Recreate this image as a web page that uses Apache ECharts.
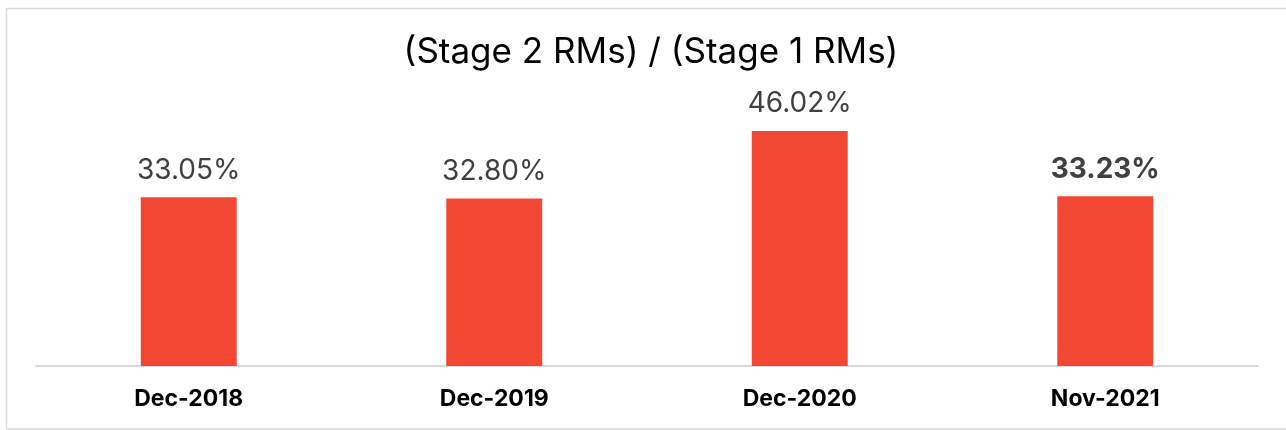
<!DOCTYPE html>
<html>
<head>
<meta charset="utf-8">
<script src="https://cdn.jsdelivr.net/npm/echarts@6/dist/echarts.min.js"></script>
<style>
html,body{margin:0;padding:0;background:#fff;}
#chart{width:1286px;height:430px;}
</style>
</head>
<body>
<div id="chart"></div>
<script>
const titleText = '(Stage 2 RMs) / (Stage 1 RMs)';
const categories = ['Dec-2018', 'Dec-2019', 'Dec-2020', 'Nov-2021'];
const values = [33.05, 32.80, 46.02, 33.23];
const boldLabelIndex = 3;

const chart = echarts.init(document.getElementById('chart'), null, {renderer: 'canvas'});
const FONT = 'Inter, Roboto, "Noto Sans", sans-serif';

chart.setOption({
  animation: false,
  backgroundColor: '#ffffff',
  title: {
    text: titleText,
    left: 651,
    textAlign: 'center',
    top: 35,
    padding: 0,
    textStyle: {fontFamily: FONT, fontSize: 35, fontWeight: 'normal', color: '#000000'}
  },
  graphic: [{
    type: 'rect',
    shape: {x: 6.5, y: 8.5, width: 1300, height: 420.5},
    style: {fill: 'none', stroke: '#d9d9d9', lineWidth: 1.5},
    silent: true
  }],
  grid: {left: 36, right: 28, top: 80, bottom: 64, containLabel: false},
  xAxis: {
    type: 'category',
    data: categories,
    axisLine: {show: true, lineStyle: {color: '#d9d9d9', width: 2}},
    axisTick: {show: false},
    axisLabel: {fontFamily: FONT, fontSize: 23, fontWeight: 'bold', color: '#000000', margin: 22}
  },
  yAxis: {
    type: 'value',
    min: 0,
    max: 56,
    show: false,
    splitLine: {show: false}
  },
  series: [{
    type: 'bar',
    data: values.map((v, i) => ({
      value: v,
      label: i === boldLabelIndex ? {fontWeight: 'bold'} : {}
    })),
    barWidth: '31.4%',
    itemStyle: {color: '#F24733'},
    label: {
      show: true,
      position: 'top',
      distance: 13,
      fontFamily: FONT,
      fontSize: 28,
      color: '#404040',
      formatter: p => p.value.toFixed(2) + '%'
    }
  }]
});
</script>
</body>
</html>
